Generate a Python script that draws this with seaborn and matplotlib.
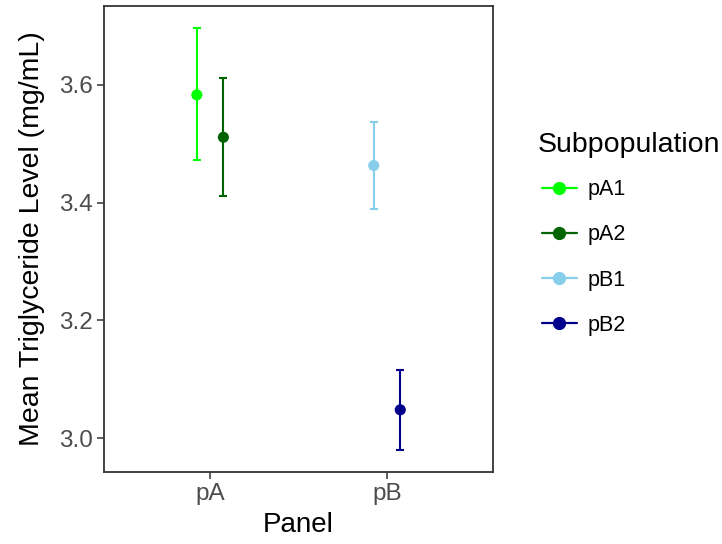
import matplotlib
matplotlib.use("Agg")
import matplotlib.pyplot as plt
import seaborn as sns
import pandas as pd
from matplotlib.lines import Line2D

panels = ["pA", "pA", "pB", "pB"]
subpops = ["pA1", "pA2", "pB1", "pB2"]
means = [3.583, 3.511, 3.463, 3.048]
lower = [3.472, 3.411, 3.389, 2.979]
upper = [3.697, 3.611, 3.537, 3.116]
colors = ["#00FF00", "#006400", "#87CEEB", "#00008B"]
panel_levels = ["pA", "pB"]

sns.set_theme(style="white")
plt.rcParams['font.family'] = ['Liberation Sans', 'DejaVu Sans']

df = pd.DataFrame({"Panel": panels, "Subpopulation": subpops, "mean": means,
                   "lo": lower, "hi": upper})
dodge = {0: -0.075, 1: 0.075}
df["xi"] = df["Panel"].map({p: i for i, p in enumerate(panel_levels)})
df["x"] = df["xi"] + df.groupby("Panel").cumcount().map(dodge)

fig = plt.figure(figsize=(7.22, 5.44), dpi=100)
ax = fig.add_axes([0.144, 0.132, 0.539, 0.857])

pal = dict(zip(subpops, colors))
for _, r in df.iterrows():
    ax.errorbar(r["x"], r["mean"], yerr=[[r["mean"] - r["lo"]], [r["hi"] - r["mean"]]],
                fmt="none", ecolor=pal[r["Subpopulation"]], elinewidth=1.5,
                capsize=3.0, capthick=1.5, zorder=2)
sns.scatterplot(data=df, x="x", y="mean", hue="Subpopulation", palette=pal,
                s=64, edgecolor="none", legend=False, ax=ax, zorder=3)

ax.set_xlim(-0.6, 1.6)
ax.set_ylim(2.942, 3.734)
ax.set_xticks(range(len(panel_levels)))
ax.set_xticklabels(panel_levels)
ax.set_yticks([3.0, 3.2, 3.4, 3.6])
ax.set_yticklabels(["3.0", "3.2", "3.4", "3.6"])
ax.set_xlabel("Panel", fontsize=20, color="black", labelpad=5)
ax.set_ylabel("Mean Triglyceride Level (mg/mL)", fontsize=20.5, color="black", labelpad=10)
ax.tick_params(axis="both", colors="#333333", labelcolor="#4D4D4D", labelsize=17.5,
               length=5, width=1.1, direction="out", bottom=True, left=True, pad=3)
for s in ax.spines.values():
    s.set_color("#333333")
    s.set_linewidth(1.3)
    s.set_visible(True)

fig.text(538 / 722, 1 - 145 / 544, "Subpopulation", fontsize=20.5, color="black",
         ha="left", va="center")
handles = [Line2D([0], [0], color=c, lw=1.6, marker="o", markersize=8.5) for c in colors]
leg = fig.legend(handles, subpops, loc="upper left",
                 bbox_to_anchor=(0.724, 0.706), frameon=False, fontsize=15.5,
                 labelspacing=1.12, handlelength=1.6, handletextpad=0.5,
                 labelcolor="black")

fig.savefig("out.png", dpi=100)
